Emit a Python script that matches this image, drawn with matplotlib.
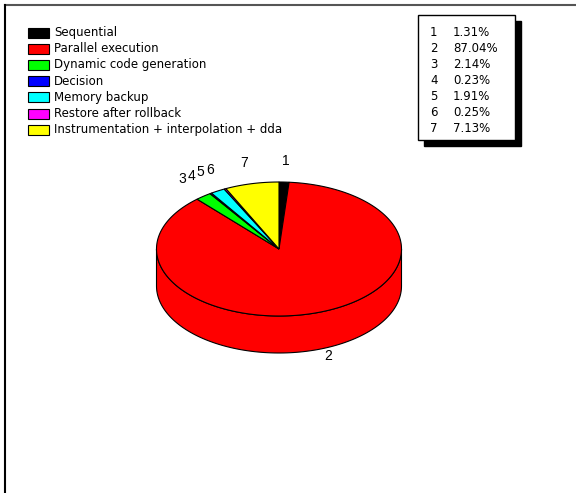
import numpy as np
import matplotlib
matplotlib.use("Agg")
import matplotlib.pyplot as plt
from matplotlib.patches import Polygon, Rectangle

# data
labels = ["Sequential", "Parallel execution", "Dynamic code generation", "Decision",
          "Memory backup", "Restore after rollback",
          "Instrumentation + interpolation + dda"]
slice_ids = ["1", "2", "3", "4", "5", "6", "7"]
shares = [1.31, 87.04, 2.14, 0.23, 1.91, 0.25, 7.13]
colors = ["#000000", "#ff0000", "#00ff00", "#0000ff", "#00ffff", "#ff00ff", "#ffff00"]

W, H = 576, 493
fig = plt.figure(figsize=(W / 100, H / 100), dpi=100)
ax = fig.add_axes([0, 0, 1, 1])
ax.set_xlim(0, W)
ax.set_ylim(H, 0)
ax.axis("off")

# frame lines (figure is a crop of a bigger page)
ax.plot([5, W], [5, 5], color="#555555", lw=1.5)
ax.plot([5, 5], [5, H], color="#000000", lw=1.5)

# 3d pie geometry (pixels)
cx, cy, rx, ry, depth = 279, 249, 122.5, 67, 37


def pt(theta, dy=0.0):
    t = np.radians(theta)
    return cx + rx * np.cos(t), cy - ry * np.sin(t) + dy


fr = np.array(shares) / sum(shares)
bounds = 90 - 360 * np.concatenate([[0], np.cumsum(fr)])

# side walls (front half: angles between -180 and 0)
for i in range(len(shares)):
    a0, a1 = bounds[i], bounds[i + 1]
    hi, lo = min(a0, 0), max(a1, -180)
    if hi <= lo:
        continue
    th = np.linspace(lo, hi, 120)
    top = np.array([pt(t) for t in th])
    bot = np.array([pt(t, depth) for t in th])[::-1]
    ax.add_patch(Polygon(np.vstack([top, bot]), closed=True, facecolor=colors[i],
                         edgecolor="black", lw=0.8, zorder=2))

# top face
for i in range(len(shares)):
    a0, a1 = bounds[i], bounds[i + 1]
    th = np.linspace(a0, a1, max(3, int(abs(a0 - a1)) + 2))
    arc = np.array([pt(t) for t in th])
    poly = np.vstack([[cx, cy], arc])
    ax.add_patch(Polygon(poly, closed=True, facecolor=colors[i], edgecolor="black",
                         lw=0.8, zorder=3))

# slice labels
for i in range(len(shares)):
    mid = (bounds[i] + bounds[i + 1]) / 2
    t = np.radians(mid)
    if np.sin(t) >= 0:
        x = cx + rx * 1.28 * np.cos(t)
        y = cy - ry * 1.32 * np.sin(t)
    else:
        x = cx + rx * 1.25 * np.cos(t)
        y = cy - ry * 1.1 * np.sin(t) + depth
    ax.text(x, y, slice_ids[i], ha="center", va="center", fontsize=10,
            family="Liberation Sans", zorder=4)

# legend
lf = "DejaVu Sans"
for i, lab in enumerate(labels):
    y = 32.5 + i * 16.2
    ax.add_patch(Rectangle((28, y - 5), 21, 10, facecolor=colors[i], edgecolor="black",
                           lw=0.8))
    ax.text(54, y, lab, ha="left", va="center", fontsize=8.5, family=lf)

# percentage table with shadow
ax.add_patch(Rectangle((424, 21), 97, 125, facecolor="black", edgecolor="black", zorder=5))
ax.add_patch(Rectangle((418, 15), 97, 125, facecolor="white", edgecolor="black",
                       lw=1, zorder=6))
for i, (sid, v) in enumerate(zip(slice_ids, shares)):
    y = 33 + i * 16
    ax.text(430, y, sid, ha="left", va="center", fontsize=8.5, family=lf, zorder=7)
    ax.text(453, y, f"{v:.2f}%", ha="left", va="center", fontsize=8.5, family=lf,
            zorder=7)

fig.savefig("out.png", dpi=100)
